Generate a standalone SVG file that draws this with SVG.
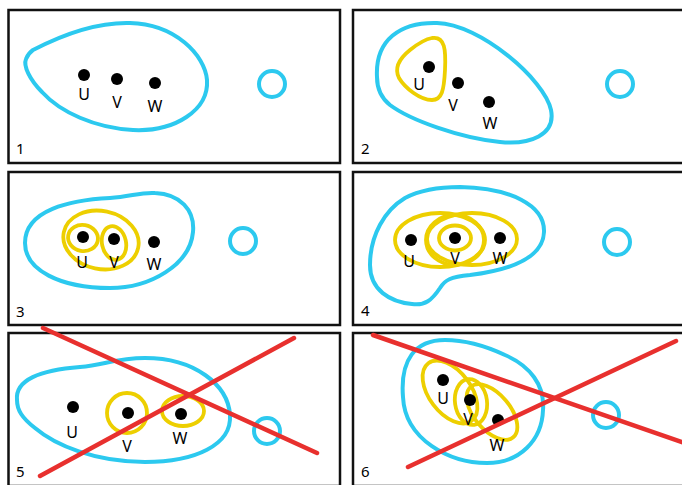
<svg xmlns="http://www.w3.org/2000/svg" width="682" height="485" viewBox="0 0 682 485">
  <style>
    .frame { fill: #ffffff; stroke: #111111; stroke-width: 2.5; }
    .blue { fill: none; stroke: #2cc9ef; stroke-width: 4; }
    .yellow { fill: none; stroke: #edcf00; stroke-width: 3.8; }
    .cross { stroke: #e8302e; stroke-width: 4.5; stroke-linecap: round; }
    .dot { fill: #000000; }
    .lbl { font-family: "Noto Sans", "Open Sans", "DejaVu Sans", sans-serif; font-size: 16px; fill: #000000; text-anchor: middle; }
    .num { font-family: "Noto Sans", "Open Sans", "DejaVu Sans", sans-serif; font-size: 15px; fill: #000000; }
  </style>
  <rect width="682" height="485" fill="#ffffff"/>

  <!-- Panel 1: one blue region holding U, V, W -->
  <g id="panel1">
    <rect class="frame" x="8.5" y="10" width="331.5" height="153"/>
    <path class="blue" d="M33,50 C60,36 95,22 130,23 C175,24 205,55 207,80 C209,110 175,132 133,130 C95,128 60,112 42,92 C30,80 23,66 26,59 C28,54 30,52 33,50 Z"/>
    <circle class="blue" cx="272" cy="84" r="13"/>
    <circle class="dot" cx="84" cy="75" r="6"/>
    <circle class="dot" cx="117" cy="79" r="6"/>
    <circle class="dot" cx="155" cy="83" r="6"/>
    <text class="lbl" x="84" y="100">U</text>
    <text class="lbl" x="117" y="108">V</text>
    <text class="lbl" x="155" y="112">W</text>
    <text class="num" x="16" y="154">1</text>
  </g>

  <!-- Panel 2: U split off into a yellow region -->
  <g id="panel2">
    <rect class="frame" x="353" y="10" width="332" height="153"/>
    <path class="blue" d="M377,77 C375,40 400,22 437,23 C480,24 545,80 551,110 C556,135 530,145 500,142 C460,138 410,120 390,105 C380,97 377,88 377,77 Z"/>
    <path class="yellow" d="M432,38 C445,36 446,50 445,70 C444,90 442,100 432,100 C420,100 405,88 399,78 C394,68 400,58 410,50 C420,42 426,39 432,38 Z"/>
    <circle class="blue" cx="620" cy="84" r="13"/>
    <circle class="dot" cx="429" cy="67" r="6"/>
    <circle class="dot" cx="458" cy="83" r="6"/>
    <circle class="dot" cx="489" cy="102" r="6"/>
    <text class="lbl" x="419" y="90">U</text>
    <text class="lbl" x="453" y="111">V</text>
    <text class="lbl" x="490" y="129">W</text>
    <text class="num" x="361" y="154">2</text>
  </g>

  <!-- Panel 3: nested yellow regions around U and V -->
  <g id="panel3">
    <rect class="frame" x="8.5" y="172" width="331.5" height="153"/>
    <path class="blue" d="M25,243 C25,210 70,200 110,198 C130,197 140,192 155,193 C180,194 195,210 193,232 C190,265 150,288 110,288 C60,288 25,270 25,243 Z"/>
    <ellipse class="yellow" cx="101" cy="240" rx="38" ry="29" transform="rotate(12 101 240)"/>
    <ellipse class="yellow" cx="83" cy="238" rx="15" ry="13" transform="rotate(10 83 238)"/>
    <ellipse class="yellow" cx="114" cy="243" rx="12" ry="17" transform="rotate(-12 114 243)"/>
    <circle class="blue" cx="243" cy="241" r="13"/>
    <circle class="dot" cx="83" cy="237" r="6"/>
    <circle class="dot" cx="114" cy="239" r="6"/>
    <circle class="dot" cx="154" cy="242" r="6"/>
    <text class="lbl" x="82" y="268">U</text>
    <text class="lbl" x="114" y="268">V</text>
    <text class="lbl" x="154" y="270">W</text>
    <text class="num" x="16" y="317">3</text>
  </g>

  <!-- Panel 4: overlapping yellow regions sharing V -->
  <g id="panel4">
    <rect class="frame" x="353" y="172" width="332" height="153"/>
    <path class="blue" d="M460,187 C510,188 545,205 544,232 C543,258 510,270 470,275 C450,277 445,280 440,288 C432,300 425,306 412,304 C390,302 370,290 370,265 C370,235 385,210 405,198 C420,190 440,187 460,187 Z"/>
    <ellipse class="yellow" cx="440" cy="240" rx="45" ry="27"/>
    <ellipse class="yellow" cx="472" cy="239" rx="45" ry="26"/>
    <ellipse class="yellow" cx="455" cy="240" rx="29" ry="25"/>
    <ellipse class="yellow" cx="455" cy="238" rx="16" ry="12.5"/>
    <circle class="blue" cx="617" cy="242" r="13"/>
    <circle class="dot" cx="411" cy="240" r="6"/>
    <circle class="dot" cx="455" cy="238" r="6"/>
    <circle class="dot" cx="500" cy="238" r="6"/>
    <text class="lbl" x="409" y="267">U</text>
    <text class="lbl" x="455" y="264">V</text>
    <text class="lbl" x="500" y="264">W</text>
    <text class="num" x="361" y="316">4</text>
  </g>

  <!-- Panel 5: crossed out -->
  <g id="panel5">
    <rect class="frame" x="8.5" y="333" width="331.5" height="153"/>
    <path class="blue" d="M17,400 C15,380 40,370 80,367 C105,365 115,358 145,358 C195,358 228,385 230,415 C232,445 195,462 145,462 C95,462 55,445 35,428 C22,418 17,410 17,400 Z"/>
    <ellipse class="yellow" cx="127" cy="413" rx="20" ry="20"/>
    <ellipse class="yellow" cx="183" cy="411" rx="21" ry="15"/>
    <circle class="blue" cx="267" cy="431" r="13"/>
    <circle class="dot" cx="73" cy="407" r="6"/>
    <circle class="dot" cx="128" cy="413" r="6"/>
    <circle class="dot" cx="181" cy="414" r="6"/>
    <text class="lbl" x="72" y="438">U</text>
    <text class="lbl" x="127" y="452">V</text>
    <text class="lbl" x="180" y="444">W</text>
    <text class="num" x="16" y="477">5</text>
    <line class="cross" x1="43" y1="328" x2="317" y2="453"/>
    <line class="cross" x1="40" y1="476" x2="294" y2="338"/>
  </g>

  <!-- Panel 6: crossed out -->
  <g id="panel6">
    <rect class="frame" x="353" y="333" width="332" height="153"/>
    <path class="blue" d="M403,397 C400,360 415,340 445,340 C470,340 490,348 505,355 C530,366 545,385 543,410 C542,440 520,463 487,463 C450,463 405,440 403,397 Z"/>
    <ellipse class="yellow" cx="450" cy="392" rx="36" ry="21" transform="rotate(53 450 392)"/>
    <ellipse class="yellow" cx="492" cy="412" rx="33" ry="18" transform="rotate(50 492 412)"/>
    <ellipse class="yellow" cx="471" cy="402" rx="16" ry="23" transform="rotate(-8 471 402)"/>
    <circle class="blue" cx="606" cy="415" r="13"/>
    <circle class="dot" cx="443" cy="380" r="6"/>
    <circle class="dot" cx="470" cy="400" r="6"/>
    <circle class="dot" cx="498" cy="420" r="6"/>
    <text class="lbl" x="443" y="404">U</text>
    <text class="lbl" x="468" y="425">V</text>
    <text class="lbl" x="497" y="451">W</text>
    <text class="num" x="361" y="477">6</text>
    <line class="cross" x1="373" y1="335" x2="690" y2="445"/>
    <line class="cross" x1="408" y1="467" x2="676" y2="341"/>
  </g>
</svg>
